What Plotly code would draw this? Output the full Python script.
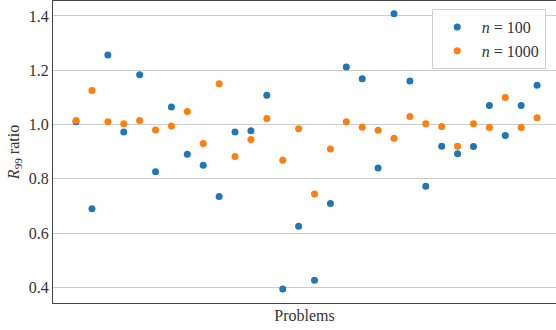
import plotly.graph_objects as go

problems = list(range(30))
ratio_n100 = [1.01, 0.69, 1.256, 0.973, 1.183, 0.826, 1.065, 0.891, 0.85, 0.735,
              0.973, 0.977, 1.108, 0.395, 0.626, 0.427, 0.709, 1.212, 1.169, 0.84,
              1.408, 1.16, 0.773, 0.92, 0.893, 0.919, 1.07, 0.96, 1.07, 1.145]
ratio_n1000 = [1.015, 1.125, 1.01, 1.003, 1.015, 0.98, 0.995, 1.048, 0.93, 1.15,
               0.882, 0.945, 1.022, 0.869, 0.985, 0.744, 0.91, 1.01, 0.99, 0.979,
               0.95, 1.03, 1.003, 0.993, 0.92, 1.003, 0.989, 1.1, 0.989, 1.025]
y_ticks = [0.4, 0.6, 0.8, 1.0, 1.2, 1.4]
y_tick_labels = ["0.4", "0.6", "0.8", "1.0", "1.2", "1.4"]

FONT = "Liberation Serif"
TXT = "#333333"

fig = go.Figure()
fig.add_trace(go.Scatter(x=problems, y=ratio_n100, mode="markers", name="<i>n</i> = 100",
                         marker=dict(color="#1f77b4", size=7, line=dict(width=0))))
fig.add_trace(go.Scatter(x=problems, y=ratio_n1000, mode="markers", name="<i>n</i> = 1000",
                         marker=dict(color="#ff7f0e", size=7, line=dict(width=0))))

fig.update_layout(
    width=556, height=330,
    margin=dict(l=53, r=0, t=1, b=27, autoexpand=False),
    paper_bgcolor="white", plot_bgcolor="white",
    font=dict(family=FONT, size=16, color=TXT),
    showlegend=True,
    legend=dict(x=0.753, y=0.9735, xanchor="left", yanchor="top",
                bgcolor="rgba(255,255,255,0.85)", bordercolor="#d0d0d0", borderwidth=1,
                font=dict(family=FONT, size=16, color=TXT),
                itemwidth=39, tracegroupgap=2),
    xaxis=dict(range=[-1.45, 30.19], showgrid=False, zeroline=False, automargin=False,
               showticklabels=False, ticks="",
               showline=True, linecolor="#444444", linewidth=1, mirror=True,
               title=dict(text="Problems", standoff=6, font=dict(family=FONT, size=16, color=TXT))),
    yaxis=dict(range=[0.343, 1.455], tickvals=y_ticks, ticktext=y_tick_labels, automargin=False,
               showgrid=True, gridcolor="#cccccc", gridwidth=1, zeroline=False,
               ticks="", showline=True, linecolor="#444444", linewidth=1,
               tickfont=dict(family=FONT, size=16, color=TXT),
               title=dict(text="<i>R</i><sub>99</sub> ratio", standoff=5,
                          font=dict(family=FONT, size=16, color=TXT))),
)

fig.write_html("out.html", config={"displayModeBar": False},
               post_script="document.body.style.margin='0';document.body.style.overflow='hidden';")
